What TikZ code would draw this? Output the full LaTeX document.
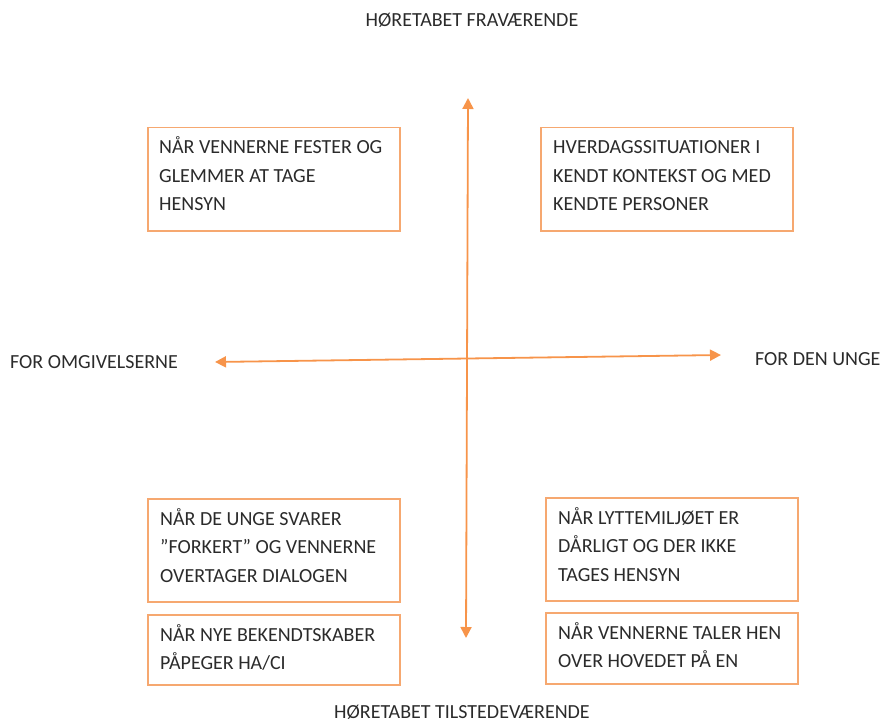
\documentclass[tikz,border=0pt]{standalone}
\usepackage{fontspec}
\setmainfont{Carlito}
\usetikzlibrary{arrows.meta}
\definecolor{arrorange}{HTML}{F7944A}
\definecolor{boxorange}{HTML}{F6A870}
\definecolor{txt}{HTML}{2B2B2B}
\tikzset{
  qbox/.style={draw=boxorange, line width=1.5pt, fill=white, minimum width=252pt, anchor=north west, inner sep=0pt},
  qtext/.style={text=txt, font=\fontsize{20}{28.5}\selectfont, align=left, anchor=base west, inner sep=0pt},
  axlabel/.style={text=txt, font=\fontsize{20}{24}\selectfont, inner sep=0pt},
  axis/.style={draw=arrorange, line width=1.8pt, {Triangle[length=11pt,width=11pt]}-{Triangle[length=11pt,width=11pt]}}
}
\begin{document}
\begin{tikzpicture}[x=1pt,y=-1pt]
\useasboundingbox (0,0) rectangle (883,722);
% axes
\coordinate (vtop) at (468,98);
\coordinate (vbot) at (466,638);
\coordinate (hleft) at (215,362);
\coordinate (hright) at (721,355);
\draw[axis] (vbot) -- (vtop);
\draw[axis] (hleft) -- (hright);
% boxes
\node[qbox, minimum height=103pt] (tl) at (147,127) {};
\node[qbox, minimum height=103pt] (tr) at (540,127) {};
\node[qbox, minimum height=103pt] (bl1) at (147,498) {};
\node[qbox, minimum height=70pt] (bl2) at (147,614) {};
\node[qbox, minimum height=103pt] (br1) at (545,497) {};
\node[qbox, minimum height=71pt] (br2) at (545,612) {};
% box texts (anchor = baseline of last line)
\node[qtext] (tlt) at ([xshift=12pt,yshift=-84pt]tl.north west) {NÅR VENNERNE FESTER OG\\GLEMMER AT TAGE\\HENSYN};
\node[qtext] (trt) at ([xshift=13pt,yshift=-84pt]tr.north west) {HVERDAGSSITUATIONER I\\KENDT KONTEKST OG MED\\KENDTE PERSONER};
\node[qtext] (bl1t) at ([xshift=13pt,yshift=-84pt]bl1.north west) {NÅR DE UNGE SVARER\\”FORKERT” OG VENNERNE\\OVERTAGER DIALOGEN};
\node[qtext] (bl2t) at ([xshift=13pt,yshift=-55.5pt]bl2.north west) {NÅR NYE BEKENDTSKABER\\PÅPEGER HA/CI};
\node[qtext] (br1t) at ([xshift=13pt,yshift=-84pt]br1.north west) {NÅR LYTTEMILJØET ER\\DÅRLIGT OG DER IKKE\\TAGES HENSYN};
\node[qtext] (br2t) at ([xshift=13pt,yshift=-55.5pt]br2.north west) {NÅR VENNERNE TALER HEN\\OVER HOVEDET PÅ EN};
% axis labels
\node[axlabel] (top) at (472,20) {HØRETABET FRAVÆRENDE};
\node[axlabel] (bottom) at (462,712) {HØRETABET TILSTEDEVÆRENDE};
\node[axlabel, anchor=west] (left) at (10,362) {FOR OMGIVELSERNE};
\node[axlabel, anchor=west] (right) at (755,359) {FOR DEN UNGE};
\end{tikzpicture}
\end{document}
